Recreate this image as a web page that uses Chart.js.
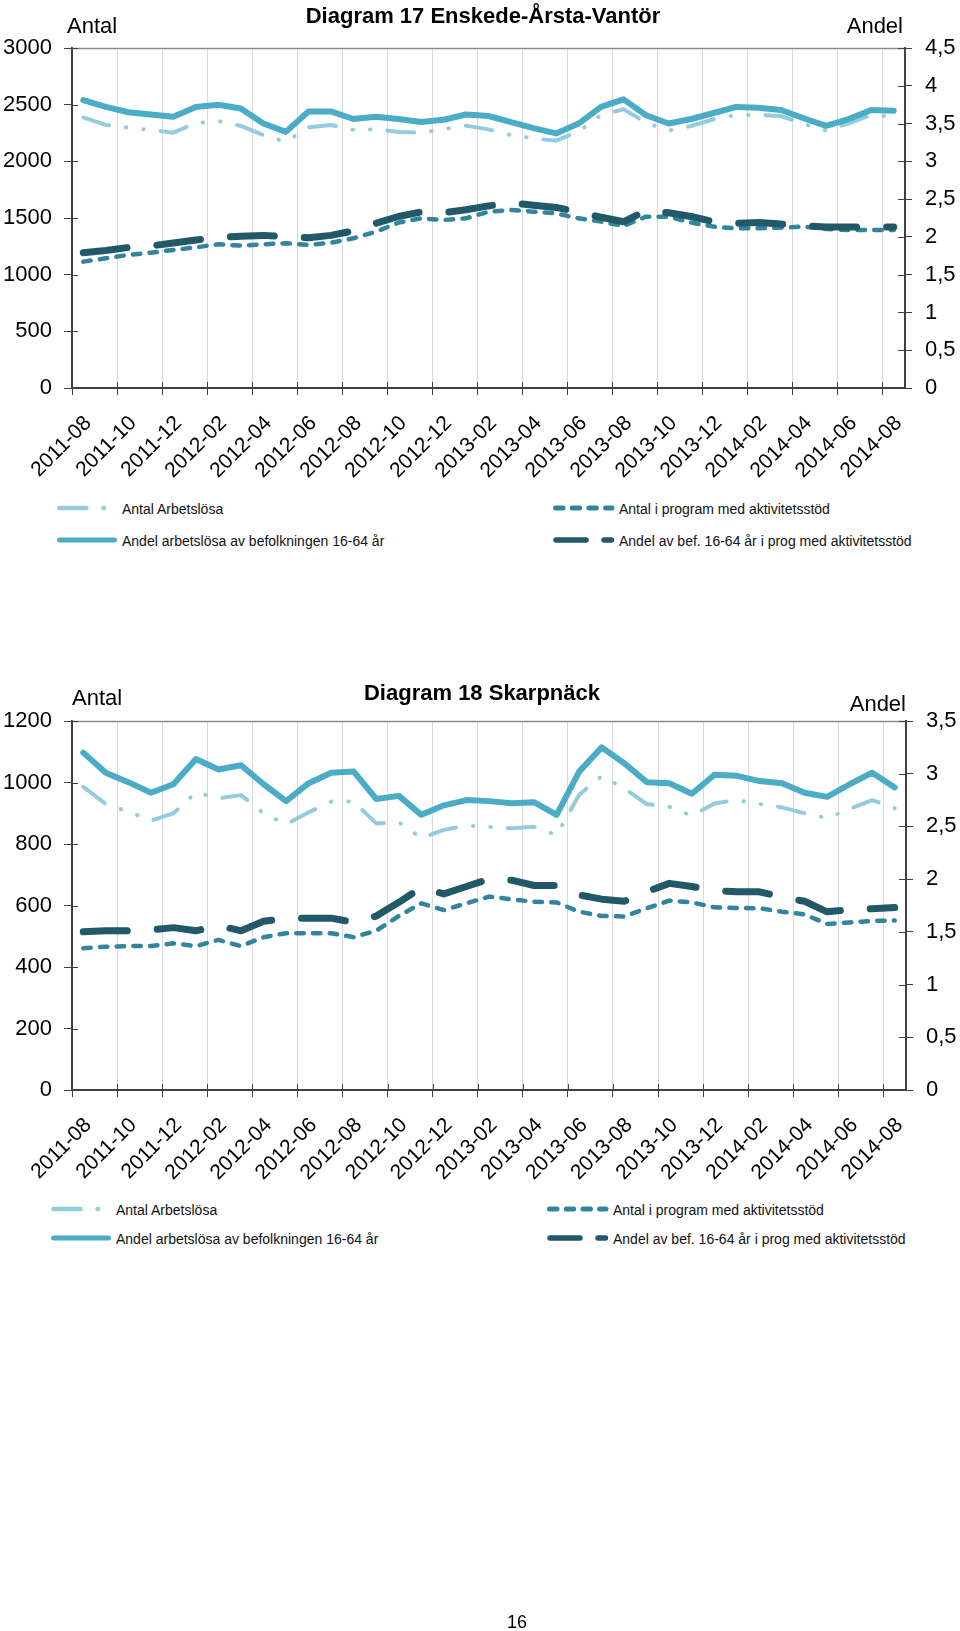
<!DOCTYPE html>
<html>
<head>
<meta charset="utf-8">
<script src="https://cdn.jsdelivr.net/npm/chart.js@4.4.1/dist/chart.umd.min.js"></script>
<style>
  html, body { margin: 0; padding: 0; background: #fff; }
  #page { position: relative; width: 960px; height: 1631px; overflow: hidden;
          font-family: "Liberation Sans", Arial, Helvetica, sans-serif; color: #000; }
  canvas { position: absolute; left: 0; }
  .t { position: absolute; white-space: nowrap; line-height: 1; }
  .title { font-weight: bold; font-size: 22px; transform: translateX(-50%); }
  .ax { font-size: 22px; }
  .lg { font-size: 14px; color: #111; }
  #overlay { position: absolute; left: 0; top: 0; pointer-events: none; }
</style>
</head>
<body>
<div id="page">
  <canvas id="c1" width="960" height="500" style="top:0px"></canvas>
  <canvas id="c2" width="960" height="570" style="top:620px"></canvas>

  <div class="t title" style="left:483px; top:5px;">Diagram 17 Enskede-Årsta-Vantör</div>
  <div class="t ax" style="left:67px; top:15px;">Antal</div>
  <div class="t ax" style="right:57px; top:15px;">Andel</div>

  <div class="t title" style="left:482px; top:682px;">Diagram 18 Skarpnäck</div>
  <div class="t ax" style="left:72px; top:687px;">Antal</div>
  <div class="t ax" style="right:54px; top:693px;">Andel</div>

  <div id="legends"></div>
  <svg id="overlay" width="960" height="1631"></svg>

  <div class="t" style="left:517px; top:1613px; font-size:18px; transform:translateX(-50%);">16</div>
</div>

<script>
// ---------- data ----------
const months = ['2011-08','2011-09','2011-10','2011-11','2011-12','2012-01','2012-02','2012-03',
  '2012-04','2012-05','2012-06','2012-07','2012-08','2012-09','2012-10','2012-11','2012-12',
  '2013-01','2013-02','2013-03','2013-04','2013-05','2013-06','2013-07','2013-08','2013-09',
  '2013-10','2013-11','2013-12','2014-01','2014-02','2014-03','2014-04','2014-05','2014-06',
  '2014-07','2014-08'];

const seriesNames = ['Antal Arbetslösa', 'Antal i program med aktivitetsstöd',
  'Andel arbetslösa av befolkningen 16-64 år', 'Andel av bef. 16-64 år i prog med aktivitetsstöd'];

// Diagram 17 Enskede-Årsta-Vantör
const antalArbetslosa17 = [2388, 2321, 2297, 2277, 2253, 2336, 2356, 2312, 2232, 2173, 2300, 2321, 2277,
  2283, 2259, 2253, 2283, 2315, 2282, 2232, 2203, 2182, 2262, 2409, 2459, 2341, 2271, 2312, 2371, 2409,
  2409, 2400, 2330, 2271, 2336, 2409, 2394];
const antalProgram17 = [1115, 1144, 1174, 1194, 1218, 1241, 1268, 1256, 1268, 1277, 1262, 1282, 1321,
  1379, 1459, 1497, 1482, 1497, 1555, 1571, 1556, 1541, 1497, 1468, 1430, 1512, 1512, 1459, 1424, 1409,
  1409, 1415, 1424, 1403, 1394, 1394, 1394];
const andelArbetslosa17 = [3.81, 3.72, 3.65, 3.62, 3.59, 3.72, 3.75, 3.70, 3.50, 3.39, 3.66, 3.66, 3.56,
  3.59, 3.56, 3.52, 3.55, 3.62, 3.60, 3.52, 3.44, 3.37, 3.50, 3.72, 3.82, 3.61, 3.50, 3.56, 3.64, 3.72,
  3.71, 3.68, 3.57, 3.47, 3.56, 3.68, 3.67];
const andelProgram17 = [1.79, 1.82, 1.86, 1.88, 1.92, 1.96, 1.99, 2.01, 2.02, 2.00, 1.99, 2.02, 2.08,
  2.18, 2.27, 2.33, 2.32, 2.36, 2.41, 2.45, 2.42, 2.39, 2.33, 2.26, 2.20, 2.35, 2.32, 2.27, 2.20, 2.18,
  2.19, 2.17, 2.15, 2.13, 2.13, 2.13, 2.13];

// Diagram 18 Skarpnäck
const antalArbetslosa18 = [986, 930, 905, 876, 900, 968, 949, 959, 900, 864, 903, 938, 938, 867, 871,
  819, 846, 860, 856, 851, 856, 829, 960, 1021, 981, 930, 921, 892, 932, 943, 930, 919, 900, 884, 914,
  943, 916];
const antalProgram18 = [461, 466, 468, 468, 477, 468, 488, 468, 497, 510, 510, 510, 497, 518, 566, 607,
  585, 607, 629, 620, 612, 610, 580, 566, 564, 591, 616, 610, 594, 592, 591, 580, 571, 540, 545, 550, 551];
const andelArbetslosa18 = [3.20, 3.01, 2.92, 2.82, 2.90, 3.14, 3.04, 3.08, 2.90, 2.74, 2.91, 3.01, 3.02,
  2.76, 2.79, 2.61, 2.70, 2.75, 2.74, 2.72, 2.73, 2.61, 3.02, 3.25, 3.10, 2.92, 2.91, 2.81, 2.99, 2.98,
  2.93, 2.91, 2.82, 2.78, 2.90, 3.01, 2.87];
const andelProgram18 = [1.50, 1.51, 1.51, 1.52, 1.54, 1.51, 1.56, 1.51, 1.60, 1.63, 1.63, 1.63, 1.59,
  1.65, 1.78, 1.92, 1.86, 1.93, 2.00, 1.99, 1.94, 1.94, 1.85, 1.81, 1.79, 1.88, 1.96, 1.93, 1.89, 1.88,
  1.88, 1.83, 1.79, 1.69, 1.71, 1.72, 1.73];

const leftTicks17 = [0, 500, 1000, 1500, 2000, 2500, 3000];
const rightTicks17 = [0, 0.5, 1, 1.5, 2, 2.5, 3, 3.5, 4, 4.5];
const leftTicks18 = [0, 200, 400, 600, 800, 1000, 1200];
const rightTicks18 = [0, 0.5, 1, 1.5, 2, 2.5, 3, 3.5];

// ---------- styles ----------
const FONT = "'Liberation Sans', Arial, Helvetica, sans-serif";
const C = { light: '#93CDDD', mid: '#4BACC6', teal: '#31859C', dark: '#215968' };
const AXIS = '#404040';
const GRID = '#d9d9d9';
const DASH = {
  light: [27, 17, 0.5, 17, 0.5, 17],
  teal: [7.5, 9.2],
  dark: [44, 30]
};

const framePlugin = {
  id: 'frame',
  afterDraw(chart) {
    const { ctx, chartArea: a, scales } = chart;
    ctx.save();
    ctx.lineWidth = 1.5;
    ctx.strokeStyle = '#8a8a8a';
    ctx.beginPath();
    ctx.moveTo(a.left, a.top + 0.5);
    ctx.lineTo(a.right, a.top + 0.5);
    ctx.stroke();
    ctx.lineWidth = 1;
    ctx.strokeStyle = AXIS;
    ctx.beginPath();
    scales.y.ticks.forEach((t, i) => {
      const p = Math.round(scales.y.getPixelForTick(i)) + 0.5;
      ctx.moveTo(a.left, p); ctx.lineTo(a.left + 6, p);
    });
    scales.y1.ticks.forEach((t, i) => {
      const p = Math.round(scales.y1.getPixelForTick(i)) + 0.5;
      ctx.moveTo(a.right - 7, p); ctx.lineTo(a.right, p);
    });
    const xs = scales.x;
    const w = xs.getPixelForTick(1) - xs.getPixelForTick(0);
    for (let i = 0; i < xs.ticks.length; i += 2) {
      const p = Math.round(xs.getPixelForTick(i) - w / 2) + 0.5;
      ctx.moveTo(p, a.bottom - 6); ctx.lineTo(p, a.bottom);
    }
    ctx.stroke();
    ctx.restore();
  }
};

function fmtComma(v) {
  return (Math.round(v * 10) / 10).toString().replace('.', ',');
}

function makeChart(id, d, cfg) {
  const common = { pointRadius: 0, pointHoverRadius: 0, fill: false, tension: 0,
                   borderCapStyle: 'round', borderJoinStyle: 'round' };
  return new Chart(document.getElementById(id), {
    type: 'line',
    data: {
      labels: months,
      datasets: [
        Object.assign({ label: seriesNames[0], data: d.antal, yAxisID: 'y', borderColor: C.light,
          borderWidth: 4, borderDash: DASH.light, order: 3 }, common),
        Object.assign({ label: seriesNames[1], data: d.prog, yAxisID: 'y', borderColor: C.teal,
          borderWidth: 4.5, borderDash: DASH.teal, order: 2 }, common),
        Object.assign({ label: seriesNames[2], data: d.andel, yAxisID: 'y1', borderColor: C.mid,
          borderWidth: 6, order: 1 }, common),
        Object.assign({ label: seriesNames[3], data: d.andelProg, yAxisID: 'y1', borderColor: C.dark,
          borderWidth: 7, borderDash: DASH.dark, order: 0 }, common)
      ]
    },
    options: {
      responsive: false,
      animation: false,
      devicePixelRatio: 1,
      events: [],
      layout: { padding: { top: cfg.padTop, left: 0, right: 0, bottom: 0 } },
      plugins: { legend: { display: false }, tooltip: { enabled: false }, title: { display: false } },
      scales: {
        x: {
          type: 'category',
          offset: true,
          grid: {
            offset: true,
            drawOnChartArea: true,
            lineWidth: 1,
            color: c => (c.index % 2 === 0 ? GRID : 'rgba(0,0,0,0)'),
            tickColor: c => (c.index % 2 === 0 ? AXIS : 'rgba(0,0,0,0)'),
            tickLength: 7,
            tickWidth: 1
          },
          border: { display: true, color: AXIS, width: 2 },
          ticks: {
            autoSkip: false, maxRotation: 45, minRotation: 45, padding: 16, labelOffset: 5,
            color: '#000', font: { family: FONT, size: 21 },
            callback: (v, i) => (i % 2 === 0 ? months[i] : '')
          },
          afterFit: s => { s.height = cfg.xH; }
        },
        y: {
          position: 'left',
          min: cfg.leftTicks[0], max: cfg.leftTicks[cfg.leftTicks.length - 1],
          afterBuildTicks: s => { s.ticks = cfg.leftTicks.map(v => ({ value: v })); },
          grid: { drawOnChartArea: false, tickLength: 8, tickColor: AXIS, tickWidth: 1 },
          border: { display: true, color: AXIS, width: 2 },
          ticks: { padding: 12, color: '#000', font: { family: FONT, size: 22 }, callback: v => String(v) },
          afterFit: s => { s.width = 72; }
        },
        y1: {
          position: 'right',
          min: cfg.rightTicks[0], max: cfg.rightTicks[cfg.rightTicks.length - 1],
          afterBuildTicks: s => { s.ticks = cfg.rightTicks.map(v => ({ value: v })); },
          grid: { drawOnChartArea: false, tickLength: 7, tickColor: AXIS, tickWidth: 1 },
          border: { display: true, color: AXIS, width: 2 },
          ticks: { padding: 13, color: '#000', font: { family: FONT, size: 22 }, callback: v => fmtComma(v) },
          afterFit: s => { s.width = cfg.rightW; }
        }
      }
    },
    plugins: [framePlugin]
  });
}

makeChart('c1', { antal: antalArbetslosa17, prog: antalProgram17, andel: andelArbetslosa17, andelProg: andelProgram17 },
  { padTop: 48, xH: 112, leftTicks: leftTicks17, rightTicks: rightTicks17, rightW: 55 });
makeChart('c2', { antal: antalArbetslosa18, prog: antalProgram18, andel: andelArbetslosa18, andelProg: andelProgram18 },
  { padTop: 101, xH: 100, leftTicks: leftTicks18, rightTicks: rightTicks18, rightW: 54 });

// ---------- legends (HTML text + SVG samples) ----------
const svgNS = 'http://www.w3.org/2000/svg';
const overlay = document.getElementById('overlay');
const legendsDiv = document.getElementById('legends');
function sample(x1, x2, y, color, width, dash) {
  const l = document.createElementNS(svgNS, 'line');
  l.setAttribute('x1', x1); l.setAttribute('x2', x2);
  l.setAttribute('y1', y); l.setAttribute('y2', y);
  l.setAttribute('stroke', color); l.setAttribute('stroke-width', width);
  l.setAttribute('stroke-linecap', 'round');
  if (dash) l.setAttribute('stroke-dasharray', dash.join(' '));
  overlay.appendChild(l);
}
function text(x, baseline, s) {
  const d = document.createElement('div');
  d.className = 't lg';
  d.style.left = x + 'px';
  d.style.top = (baseline - 11.9) + 'px';
  d.textContent = s;
  legendsDiv.appendChild(d);
}
function legend(dx, y1, y2) {
  sample(59.5 + dx, 107 + dx, y1, C.light, 4.5, DASH.light);
  text(122 + dx, y1 + 5.5, seriesNames[0]);
  sample(59.5 + dx, 114.5 + dx, y2, C.mid, 5);
  text(122 + dx, y2 + 5.5, seriesNames[2]);
  sample(555.5 + dx, 612 + dx, y1, C.teal, 5, DASH.teal);
  text(619 + dx, y1 + 5.5, seriesNames[1]);
  sample(556 + dx, 611.5 + dx, y2, C.dark, 5.5, [30, 18]);
  text(619 + dx, y2 + 5.5, seriesNames[3]);
}
legend(0, 508, 540);
legend(-6, 1209, 1238);
</script>
</body>
</html>
